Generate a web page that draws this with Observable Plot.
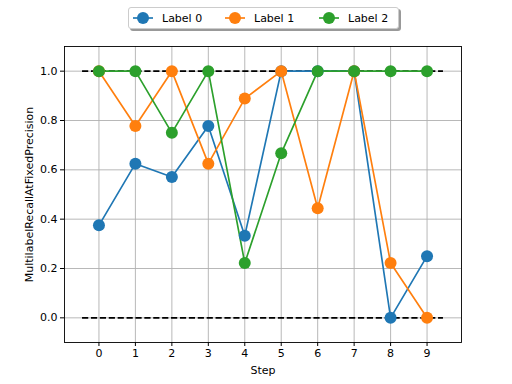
<!DOCTYPE html>
<html>
<head>
<meta charset="utf-8">
<script src="https://cdn.jsdelivr.net/npm/d3@7"></script>
<script src="https://cdn.jsdelivr.net/npm/@observablehq/plot@0.6"></script>
<style>
  html, body { margin: 0; padding: 0; background: white; }
  #wrap { position: relative; width: 512px; height: 384px; font-family: "DejaVu Sans", sans-serif; }
  #legend { position: absolute; left: 128px; top: 7px; width: 269px; height: 20px; background: white;
    border: 1px solid #cccccc; border-radius: 3px; box-shadow: 2px 2px 0 #999999; font-size: 11px; }
  #legend svg { position: absolute; left: 0; top: 0; }
</style>
</head>
<body>
<div id="wrap"></div>
<script>
const steps = [0, 1, 2, 3, 4, 5, 6, 7, 8, 9];
const seriesNames = ["Label 0", "Label 1", "Label 2"];
const label0 = [0.375, 0.625, 0.571, 0.778, 0.333, 1.0, 1.0, 1.0, 0.0, 0.25];
const label1 = [1.0, 0.778, 1.0, 0.625, 0.889, 1.0, 0.444, 1.0, 0.222, 0.0];
const label2 = [1.0, 1.0, 0.75, 1.0, 0.222, 0.667, 1.0, 1.0, 1.0, 1.0];
const colors = ["#1f77b4", "#ff7f0e", "#2ca02c"];
const yTicks = [0.0, 0.2, 0.4, 0.6, 0.8, 1.0];
const yTickLabels = ["0.0", "0.2", "0.4", "0.6", "0.8", "1.0"];
const hlineValues = [0, 1];
const hlineStart = -0.45;
const hlineEnd = 9.45;

const allSeries = [label0, label1, label2];
const data = [];
allSeries.forEach((vals, i) => {
  steps.forEach((s, j) => data.push({ step: s, value: vals[j], series: seriesNames[i] }));
});
const hlines = hlineValues.map(v => ({ y: v, x1: hlineStart, x2: hlineEnd }));

const chart = Plot.plot({
  width: 512,
  height: 384,
  marginLeft: 64,
  marginRight: 51,
  marginTop: 46,
  marginBottom: 42,
  style: { fontFamily: "DejaVu Sans, sans-serif", fontSize: "11px", color: "black", background: "white" },
  x: { domain: [-0.945, 9.945] },
  y: { domain: [-0.1, 1.1] },
  color: { domain: seriesNames, range: colors },
  marks: [
    Plot.ruleX(steps, { x: d => d, stroke: "#b0b0b0", strokeWidth: 0.9 }),
    Plot.ruleY(yTicks, { y: d => d, stroke: "#b0b0b0", strokeWidth: 0.9 }),
    Plot.ruleY(hlines, { y: "y", x1: "x1", x2: "x2", stroke: "black", strokeWidth: 1.67, strokeDasharray: "6.2,2.7" }),
    ...seriesNames.map(name => Plot.line(data.filter(d => d.series === name), {
      x: "step", y: "value", stroke: "series", strokeWidth: 1.67
    })),
    ...seriesNames.map(name => Plot.dot(data.filter(d => d.series === name), {
      x: "step", y: "value", fill: "series", stroke: "series", r: 6, strokeWidth: 0
    })),
    Plot.axisX(steps, { tickSize: 4, tickPadding: 3, tickFormat: d => String(d), fontSize: 11, label: null }),
    Plot.axisY(yTicks, { tickSize: 4, tickPadding: 3, tickFormat: d => yTickLabels[yTicks.indexOf(d)], fontSize: 11, label: null }),
    Plot.frame({ stroke: "black", strokeWidth: 0.9 }),
    Plot.text(["Step"], { frameAnchor: "bottom", dy: 31, fontSize: 11, lineAnchor: "bottom" }),
    Plot.text(["MultilabelRecallAtFixedPrecision"], { frameAnchor: "left", textAnchor: "middle", dx: -35, rotate: -90, fontSize: 11 })
  ]
});

const wrap = document.getElementById("wrap");
wrap.appendChild(chart);

// Legend
const legend = document.createElement("div");
legend.id = "legend";
wrap.appendChild(legend);
const lsvg = d3.select(legend).append("svg").attr("width", 269).attr("height", 20);
const offsets = [4, 96, 190];
seriesNames.forEach((name, i) => {
  const g = lsvg.append("g").attr("transform", `translate(${offsets[i]},10)`);
  g.append("line").attr("x1", 0).attr("x2", 20).attr("y1", 0).attr("y2", 0)
    .attr("stroke", colors[i]).attr("stroke-width", 1.67);
  g.append("circle").attr("cx", 10).attr("cy", 0).attr("r", 6).attr("fill", colors[i]);
  g.append("text").attr("x", 29).attr("y", 0).attr("dy", "0.35em")
    .attr("font-family", "DejaVu Sans, sans-serif").attr("font-size", 11).text(name);
});
</script>
</body>
</html>
